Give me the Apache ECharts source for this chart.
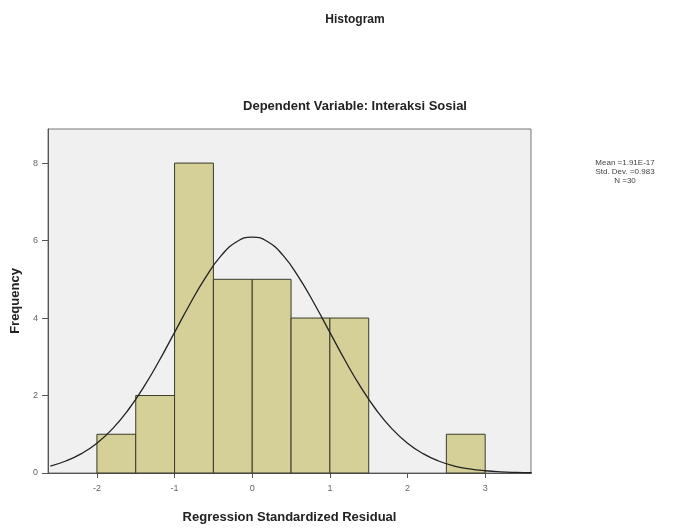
<!DOCTYPE html>
<html><head><meta charset="utf-8">
<script src="https://cdn.jsdelivr.net/npm/echarts@6/dist/echarts.min.js"></script>
<style>html,body{margin:0;padding:0;background:#fff}#c{width:673px;height:530px}</style>
</head><body><div id="c"></div>
<script>
const binStart = [-2.0, -1.5, -1.0, -0.5, 0.0, 0.5, 1.0, 2.5];
const binEnd   = [-1.5, -1.0, -0.5, 0.0, 0.5, 1.0, 1.5, 3.0];
const counts   = [1, 2, 8, 5, 5, 4, 4, 1];
const curveX = [-2.6,-2.4,-2.2,-2.0,-1.8,-1.6,-1.4,-1.2,-1.0,-0.8,-0.6,-0.4,-0.2,0.0,0.2,0.4,0.6,0.8,1.0,1.2,1.4,1.6,1.8,2.0,2.2,2.4,2.6,2.8,3.0,3.2,3.4,3.6];
const curveY = [0.18,0.31,0.50,0.77,1.14,1.62,2.21,2.89,3.63,4.37,5.05,5.61,5.97,6.09,5.97,5.61,5.05,4.37,3.63,2.89,2.21,1.62,1.14,0.77,0.50,0.31,0.18,0.105,0.058,0.030,0.015,0.007];
const xTicks = [-2, -1, 0, 1, 2, 3];
const yTicks = [0, 2, 4, 6, 8];
const statsLines = ['Mean =1.91E-17', 'Std. Dev. =0.983', 'N =30'];

const chart = echarts.init(document.getElementById('c'));
const font = 'Arial, "Liberation Sans", sans-serif';
chart.setOption({
  animation: false,
  backgroundColor: '#fff',
  title: [
    {text: 'Histogram', left: 350, top: 9, textAlign: 'center',
     textStyle: {fontFamily: font, fontSize: 12, fontWeight: 'bold', color: '#222'}},
    {text: 'Dependent Variable: Interaksi Sosial', left: 350, top: 95, textAlign: 'center',
     textStyle: {fontFamily: font, fontSize: 13, fontWeight: 'bold', color: '#222'}},
    {text: statsLines.join('\n'), left: 620, top: 153, textAlign: 'center',
     textStyle: {fontFamily: font, fontSize: 8, fontWeight: 'normal', color: '#444', lineHeight: 9}}
  ],
  grid: {left: 48, right: 142, top: 129, bottom: 57, show: true,
         backgroundColor: '#f0f0f1', borderColor: '#777', borderWidth: 1},
  xAxis: {
    type: 'value', min: -2.63, max: 3.59,
    name: 'Regression Standardized Residual', nameLocation: 'middle', nameGap: 38,
    nameTextStyle: {fontFamily: font, fontSize: 13, fontWeight: 'bold', color: '#222'},
    axisLine: {show: true, onZero: false, lineStyle: {color: '#555'}},
    axisTick: {show: true, length: 5, customValues: xTicks, lineStyle: {color: '#555'}},
    axisLabel: {customValues: xTicks, fontFamily: font, fontSize: 9, color: '#666', margin: 11},
    splitLine: {show: false}
  },
  yAxis: {
    type: 'value', min: 0, max: 8.88,
    name: 'Frequency', nameLocation: 'middle', nameGap: 24, nameRotate: 90,
    nameTextStyle: {fontFamily: font, fontSize: 13, fontWeight: 'bold', color: '#222'},
    axisLine: {show: true, onZero: false, lineStyle: {color: '#555'}},
    axisTick: {show: true, length: 6, customValues: yTicks, lineStyle: {color: '#555'}},
    axisLabel: {customValues: yTicks, fontFamily: font, fontSize: 9, color: '#666', margin: 10},
    splitLine: {show: false}
  },
  series: [
    {
      type: 'custom',
      data: binStart.map((s, i) => [s, binEnd[i], counts[i]]),
      renderItem: function (params, api) {
        const p0 = api.coord([api.value(0), 0]);
        const p1 = api.coord([api.value(1), api.value(2)]);
        return {
          type: 'rect',
          shape: {x: p0[0], y: p1[1], width: p1[0] - p0[0], height: p0[1] - p1[1]},
          style: {fill: '#d4d098', stroke: '#3a3a2a', lineWidth: 1}
        };
      },
      z: 2
    },
    {
      type: 'line', data: curveX.map((x, i) => [x, curveY[i]]),
      smooth: true, showSymbol: false, symbol: 'none',
      lineStyle: {color: '#222', width: 1.3}, z: 3
    }
  ]
});
</script></body></html>
